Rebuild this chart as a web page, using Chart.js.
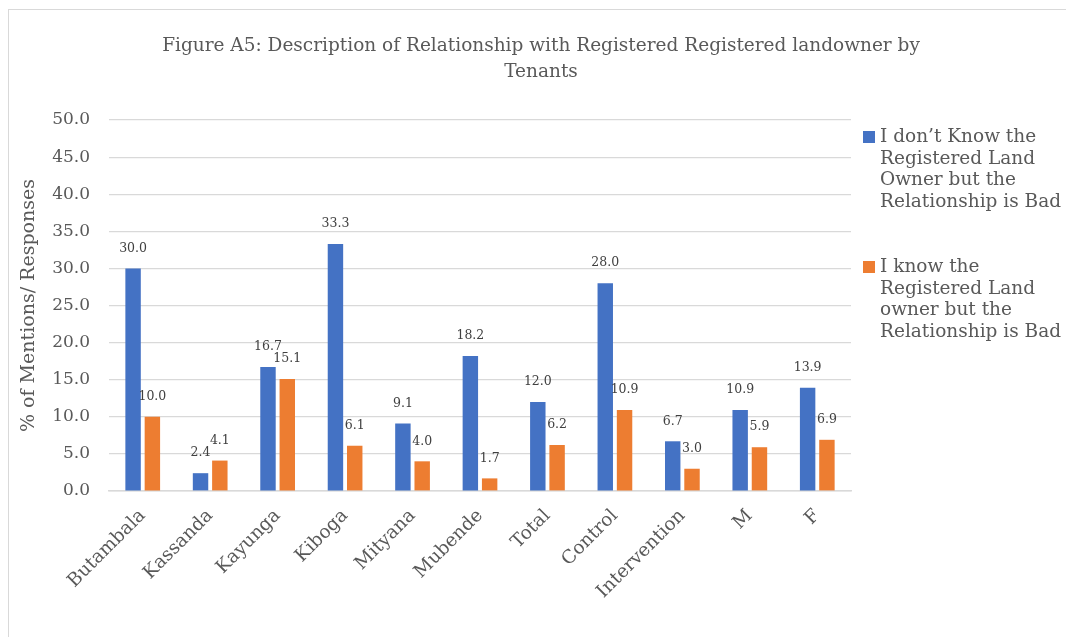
<!DOCTYPE html>
<html>
<head>
<meta charset="utf-8">
<script src="https://cdn.jsdelivr.net/npm/chart.js@4"></script>
<style>
  html, body { margin: 0; padding: 0; background: #fff; overflow: hidden; }
  #frame { position: absolute; left: 8px; top: 9px; width: 1100px; height: 700px; border: 1.5px solid #d9d9d9; }
  #wrap { position: absolute; left: 0; top: 0; width: 1066px; height: 637px; }
</style>
</head>
<body>
<div id="frame"></div>
<div id="wrap"><canvas id="myChart" width="1066" height="637"></canvas></div>
<script>
// categorias y valores
const categorias = ['Butambala', 'Kassanda', 'Kayunga', 'Kiboga', 'Mityana', 'Mubende', 'Total', 'Control', 'Intervention', 'M', 'F'];
const noConoce = [30.0, 2.4, 16.7, 33.3, 9.1, 18.2, 12.0, 28.0, 6.7, 10.9, 13.9];
const conoce = [10.0, 4.1, 15.1, 6.1, 4.0, 1.7, 6.2, 10.9, 3.0, 5.9, 6.9];
const serie1 = ['I don\u2019t Know the', 'Registered Land', 'Owner but the', 'Relationship is Bad'];
const serie2 = ['I know the', 'Registered Land', 'owner but the', 'Relationship is Bad'];
const tituloLineas = ['Figure A5: Description of Relationship with Registered Registered landowner by', 'Tenants'];

const fuente = "'DejaVu Serif', serif";
const gris = '#595959';

// titulo centrado sobre todo el lienzo (no solo el area del grafico)
const titulo = {
  id: 'titulo',
  afterDraw(chart) {
    const ctx = chart.ctx;
    ctx.save();
    ctx.font = '18.5px ' + fuente;
    ctx.fillStyle = gris;
    ctx.textAlign = 'center';
    ctx.textBaseline = 'middle';
    tituloLineas.forEach((linea, k) => ctx.fillText(linea, 541, 46 + k * 26));
    ctx.restore();
  }
};

// etiquetas de valor encima de cada barra
const etiquetas = {
  id: 'etiquetas',
  afterDatasetsDraw(chart) {
    const ctx = chart.ctx;
    ctx.save();
    ctx.font = '12.5px ' + fuente;
    ctx.fillStyle = '#404040';
    ctx.textAlign = 'center';
    ctx.textBaseline = 'middle';
    chart.data.datasets.forEach((ds, i) => {
      chart.getDatasetMeta(i).data.forEach((bar, j) => {
        ctx.fillText(ds.data[j].toFixed(1), bar.x, bar.y - 20);
      });
    });
    ctx.restore();
  }
};

// leyenda a la derecha con texto en varias lineas
const leyenda = {
  id: 'leyenda',
  afterDraw(chart) {
    const ctx = chart.ctx;
    const bloques = [serie1, serie2];
    const inicios = [137, 267];
    ctx.save();
    ctx.font = '18.5px ' + fuente;
    ctx.textBaseline = 'middle';
    ctx.textAlign = 'left';
    chart.data.datasets.forEach((ds, i) => {
      const y0 = inicios[i];
      ctx.fillStyle = ds.backgroundColor;
      ctx.fillRect(863, y0 - 6, 12, 12);
      ctx.fillStyle = gris;
      bloques[i].forEach((linea, k) => {
        ctx.fillText(linea, 880, y0 + k * 21.7);
      });
    });
    ctx.restore();
  }
};

var ctx = document.getElementById('myChart').getContext('2d');
new Chart(ctx, {
  type: 'bar',
  data: {
    labels: categorias,
    datasets: [{
      label: serie1.join(' '),
      data: noConoce,
      backgroundColor: '#4472C4',
      categoryPercentage: 0.572,
      barPercentage: 0.8
    }, {
      label: serie2.join(' '),
      data: conoce,
      backgroundColor: '#ED7D31',
      categoryPercentage: 0.572,
      barPercentage: 0.8
    }]
  },
  options: {
    responsive: false,
    animation: false,
    layout: {
      padding: { left: 16, right: 215, top: 120, bottom: 0 }
    },
    plugins: {
      legend: { display: false },
      tooltip: { enabled: false },
      title: { display: false }
    },
    scales: {
      x: {
        grid: { display: false },
        border: { color: '#d9d9d9', width: 1.5 },
        ticks: {
          color: gris,
          font: { family: fuente, size: 18.5 },
          minRotation: 45,
          maxRotation: 45,
          padding: 6
        },
        afterFit(scale) { scale.height = 146; }
      },
      y: {
        min: 0,
        max: 50,
        border: { display: false },
        grid: { color: '#d9d9d9', lineWidth: 1.2, drawTicks: false },
        ticks: {
          stepSize: 5,
          color: gris,
          padding: 19,
          font: { family: fuente, size: 17 },
          callback: v => v.toFixed(1)
        },
        title: {
          display: true,
          text: '% of Mentions/ Responses',
          color: gris,
          font: { family: fuente, size: 19 },
          padding: { top: 2, bottom: 0 }
        },
        afterFit(scale) { scale.width = 93; }
      }
    }
  },
  plugins: [titulo, etiquetas, leyenda]
});
</script>
</body>
</html>
